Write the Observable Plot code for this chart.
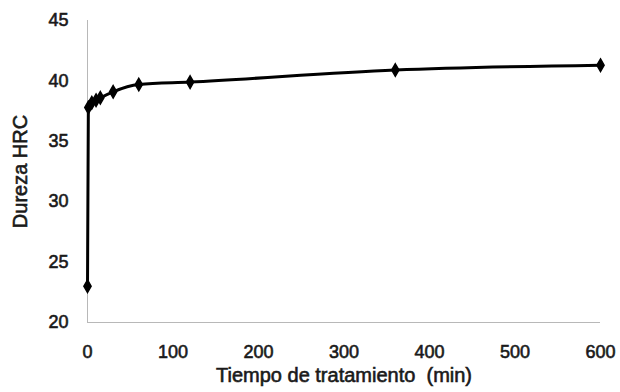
<!DOCTYPE html>
<html>
<head>
<meta charset="utf-8">
<script src="https://cdn.jsdelivr.net/npm/d3@7"></script>
<script src="https://cdn.jsdelivr.net/npm/@observablehq/plot@0.6"></script>
<style>
  html, body { margin: 0; padding: 0; background: #fff; }
  #chart svg { display: block; }
  #chart svg text { white-space: pre; stroke: #1a1a1a; stroke-width: 0.6px; fill: #1a1a1a; }
  #chart svg g[aria-label="x-axis label"], #chart svg g[aria-label="y-axis label"] { font-size: 20px; }
</style>
</head>
<body>
<div id="chart"></div>
<script>
const tiempo = [0, 1, 5, 10, 15, 30, 60, 120, 360, 600];
const dureza = [23.0, 37.8, 38.2, 38.4, 38.6, 39.1, 39.7, 39.9, 40.9, 41.3];
const errorBar = [0.3, 0.3, 0.3, 0.3, 0.3, 0.3, 0.3, 0.3, 0.35, 0.35];
const xTicks = [0, 100, 200, 300, 400, 500, 600];
const yTicks = [20, 25, 30, 35, 40, 45];
const xTitle = "Tiempo de tratamiento  (min)";
const yTitle = "Dureza HRC";

const data = tiempo.map((t, i) => ({t, d: dureza[i], e: errorBar[i]}));

const chart = Plot.plot({
  width: 620,
  height: 392,
  marginLeft: 87,
  marginRight: 20,
  marginTop: 20,
  marginBottom: 70,
  style: {fontFamily: "'Liberation Sans', Arial, sans-serif", fontSize: "18px", color: "#1a1a1a", background: "#fff"},
  x: {domain: [0, 600], range: [87, 600]},
  y: {domain: [20, 45]},
  marks: [
    Plot.ruleX([0], {y1: 20, y2: 45, stroke: "#b8b8b8", strokeWidth: 1}),
    Plot.ruleY([20], {x1: 0, x2: 600, stroke: "#b8b8b8", strokeWidth: 1}),
    Plot.axisX({ticks: xTicks, tickSize: 0, tickPadding: 23, label: xTitle, labelAnchor: "center", labelOffset: 59, labelArrow: "none", fontSize: 18}),
    Plot.axisY({ticks: yTicks, tickSize: 0, tickPadding: 19, label: yTitle, labelAnchor: "center", labelOffset: 75, labelArrow: "none", fontSize: 18}),
    Plot.line(data, {x: "t", y: "d", stroke: "#000", strokeWidth: 3, curve: "monotone-x"}),
    Plot.ruleX(data, {x: "t", y1: d => d.d - d.e, y2: d => d.d + d.e, stroke: "#000", strokeWidth: 2}),
    Plot.dot(data, {x: "t", y: "d", symbol: "diamond", r: 3.8, fill: "#000", stroke: "#000"})
  ]
});
document.getElementById("chart").append(chart);
</script>
</body>
</html>
